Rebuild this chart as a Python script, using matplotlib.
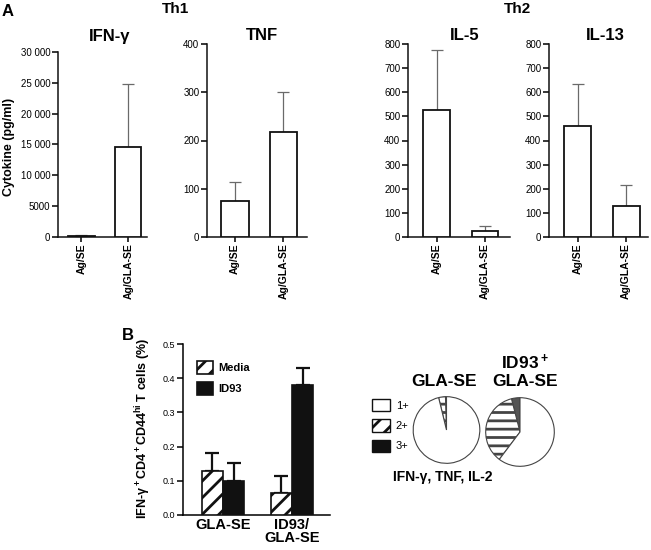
import numpy as np
import matplotlib
matplotlib.use("Agg")
import matplotlib.pyplot as plt
from matplotlib.patches import Patch

# ------------------------------------------------------------------ Konfiguration
W, H = 651, 550
plt.rcParams.update({
    "font.family": ["Liberation Sans", "DejaVu Sans"],
    "mathtext.default": "regular",
    "hatch.linewidth": 2.0,
    "axes.linewidth": 1.1,
})
INK = "#111111"
ERR_GREY = "#6a6a6a"

# ------------------------------------------------------------------ Daten Panel A
GROUPS_A = ["Ag/SE", "Ag/GLA-SE"]
IFN_MEAN = [200, 14600]
IFN_ERR = [100, 10200]
TNF_MEAN = [75, 218]
TNF_ERR = [40, 82]
IL5_MEAN = [527, 25]
IL5_ERR = [250, 20]
IL13_MEAN = [460, 130]
IL13_ERR = [173, 85]

IFN_TICKS = [0, 5000, 10000, 15000, 20000, 25000, 30000]
IFN_TICKLABELS = ["0", "5000", "10 000", "15 000", "20 000", "25 000", "30 000"]
TNF_TICKS = [0, 100, 200, 300, 400]
IL_TICKS = [0, 100, 200, 300, 400, 500, 600, 700, 800]

# ------------------------------------------------------------------ Daten Panel B
GROUPS_B = ["GLA-SE", "ID93/\nGLA-SE"]
MEDIA_MEAN = [0.13, 0.065]
MEDIA_ERR = [0.05, 0.05]
ID93_MEAN = [0.10, 0.38]
ID93_ERR = [0.052, 0.05]
B_TICKS = [0.0, 0.1, 0.2, 0.3, 0.4, 0.5]

PIE_LABELS = ["1+", "2+", "3+"]
PIE_GLA = [96.2, 3.3, 0.5]
PIE_ID93 = [60.3, 35.7, 4.0]


def px_axes(fig, x0, y0, x1, y1):
    """Achsen in Pixelkoordinaten (oben links = 0,0)."""
    return fig.add_axes([x0 / W, 1 - y1 / H, (x1 - x0) / W, (y1 - y0) / H])


def ftext(fig, x, y, s, **kw):
    fig.text(x / W, 1 - y / H, s, **kw)


def cytokine_panel(fig, box, mean, err, ticks, ticklabels, xlim):
    ax = px_axes(fig, *box)
    x = np.arange(len(GROUPS_A))
    ax.errorbar(x, mean, yerr=[np.zeros(len(err)), err], fmt="none",
                ecolor=ERR_GREY, elinewidth=0.9, capsize=4.3, capthick=0.9,
                zorder=2)
    ax.bar(x, mean, width=0.56, color="white", edgecolor=INK,
           linewidth=1.3, zorder=3)
    ax.set_xlim(*xlim)
    ax.set_ylim(ticks[0], ticks[-1])
    ax.set_yticks(ticks)
    ax.set_yticklabels(ticklabels)
    ax.set_xticks(x)
    ax.set_xticklabels(GROUPS_A, rotation=90, fontsize=7.5,
                       fontweight="bold")
    ax.tick_params(axis="y", labelsize=7, length=4, width=1.1, pad=1.5)
    ax.tick_params(axis="x", length=3.5, width=1.1, pad=1)
    for s in ("top", "right"):
        ax.spines[s].set_visible(False)
    ax.spines["left"].set_color(INK)
    ax.spines["bottom"].set_color(INK)
    return ax


def panel_a(fig):
    cytokine_panel(fig, (58, 52, 147, 237), IFN_MEAN, IFN_ERR,
                   IFN_TICKS, IFN_TICKLABELS, (-0.5, 1.4))
    cytokine_panel(fig, (207, 44, 307, 237), TNF_MEAN, TNF_ERR,
                   TNF_TICKS, [str(t) for t in TNF_TICKS], (-0.58, 1.49))
    cytokine_panel(fig, (408, 44, 510, 237), IL5_MEAN, IL5_ERR,
                   IL_TICKS, [str(t) for t in IL_TICKS], (-0.6, 1.52))
    cytokine_panel(fig, (549, 44, 648, 237), IL13_MEAN, IL13_ERR,
                   IL_TICKS, [str(t) for t in IL_TICKS], (-0.59, 1.45))

    bold = dict(fontweight="bold", ha="center", va="center")
    ftext(fig, 2, 11, "A", fontsize=12, fontweight="bold", va="center")
    ftext(fig, 175, 9, "Th1", fontsize=11, **bold)
    ftext(fig, 518, 9, "Th2", fontsize=11, **bold)
    ftext(fig, 110, 36, "IFN-γ", fontsize=12, **bold)
    ftext(fig, 262, 36, "TNF", fontsize=12, **bold)
    ftext(fig, 465, 35, "IL-5", fontsize=12, **bold)
    ftext(fig, 605, 35, "IL-13", fontsize=12, **bold)
    ftext(fig, 9, 147, "Cytokine (pg/ml)", fontsize=9, rotation=90, **bold)


def panel_b_bars(fig):
    ax = px_axes(fig, 183, 344, 330, 515)
    x = np.arange(len(GROUPS_B))
    off, w = 0.155, 0.31
    ax.errorbar(x - off, MEDIA_MEAN, yerr=[np.zeros(2), MEDIA_ERR],
                fmt="none", ecolor=INK, elinewidth=1.6, capsize=4.7,
                capthick=1.6, zorder=2)
    ax.errorbar(x + off, ID93_MEAN, yerr=[np.zeros(2), ID93_ERR],
                fmt="none", ecolor=INK, elinewidth=1.6, capsize=4.7,
                capthick=1.6, zorder=2)
    ax.bar(x - off, MEDIA_MEAN, width=w, color="white", edgecolor=INK,
           hatch="//", linewidth=1.2, zorder=3, label="Media")
    ax.bar(x + off, ID93_MEAN, width=w, color=INK, edgecolor=INK,
           linewidth=1.2, zorder=3, label="ID93")
    ax.set_xlim(-0.58, 1.55)
    ax.set_ylim(0, 0.5)
    ax.set_yticks(B_TICKS)
    ax.set_yticklabels([f"{t:.1f}" for t in B_TICKS])
    ax.set_xticks(x)
    ax.set_xticklabels(GROUPS_B, fontsize=10.5, fontweight="bold",
                       linespacing=0.95)
    ax.tick_params(axis="y", labelsize=6.5, length=4, width=1.1, pad=1.5)
    ax.tick_params(axis="x", length=0, pad=2)
    for s in ("top", "right"):
        ax.spines[s].set_visible(False)
    ax.legend(loc="upper left", bbox_to_anchor=(0.095, 0.9),
              frameon=False, borderpad=0, borderaxespad=0,
              handlelength=1.45, handleheight=1.35, labelspacing=0.8,
              handletextpad=0.5,
              prop={"size": 8, "weight": "bold"})

    ftext(fig, 128, 335, "B", fontsize=12, fontweight="bold",
          ha="center", va="center")
    ftext(fig, 143, 428, "IFN-γ$^+$CD4$^+$CD44$^{hi}$ T cells (%)",
          fontsize=9, fontweight="bold", rotation=90, ha="center",
          va="center")


def panel_b_pies(fig):
    colors = ["white", "white", "#555555"]
    hatches = ["", "--", ""]
    for box, vals in (((412, 396, 481, 464), PIE_GLA),
                      ((485, 397, 555, 467), PIE_ID93)):
        ax = px_axes(fig, *box)
        # Reihenfolge 3+ -> 2+ -> 1+, Start oben, gegen den Uhrzeigersinn
        wedges, _ = ax.pie(vals[::-1], colors=colors[::-1], startangle=90,
                           counterclock=True,
                           wedgeprops=dict(edgecolor="#444444",
                                           linewidth=0.8))
        for wdg, h in zip(wedges, hatches[::-1]):
            if h:
                wdg.set_hatch(h)
        ax.set_xlim(-1.02, 1.02)
        ax.set_ylim(-1.02, 1.02)

    handles = [Patch(facecolor="white", edgecolor=INK, linewidth=1.0),
               Patch(facecolor="white", edgecolor=INK, hatch="//",
                     linewidth=1.0),
               Patch(facecolor=INK, edgecolor=INK, linewidth=1.0)]
    fig.legend(handles, PIE_LABELS, loc="upper left",
               bbox_to_anchor=(372 / W, 1 - 399 / H), frameon=False,
               borderpad=0, borderaxespad=0, handlelength=1.65,
               handleheight=1.35, labelspacing=0.7, handletextpad=0.5,
               fontsize=8)

    bold = dict(fontweight="bold", ha="center", va="center")
    ftext(fig, 444, 382, "GLA-SE", fontsize=12.5, **bold)
    ftext(fig, 525, 362, "ID93$^+$", fontsize=12.5, **bold)
    ftext(fig, 525, 382, "GLA-SE", fontsize=12.5, **bold)
    ftext(fig, 393, 477, "IFN-γ, TNF, IL-2", fontsize=10,
          fontweight="bold", va="center")


# ------------------------------------------------------------------ Main
def main():
    fig = plt.figure(figsize=(W / 100, H / 100), dpi=100)
    panel_a(fig)
    panel_b_bars(fig)
    panel_b_pies(fig)
    fig.savefig("out.png", dpi=100)
    plt.close(fig)


if __name__ == "__main__":
    main()
